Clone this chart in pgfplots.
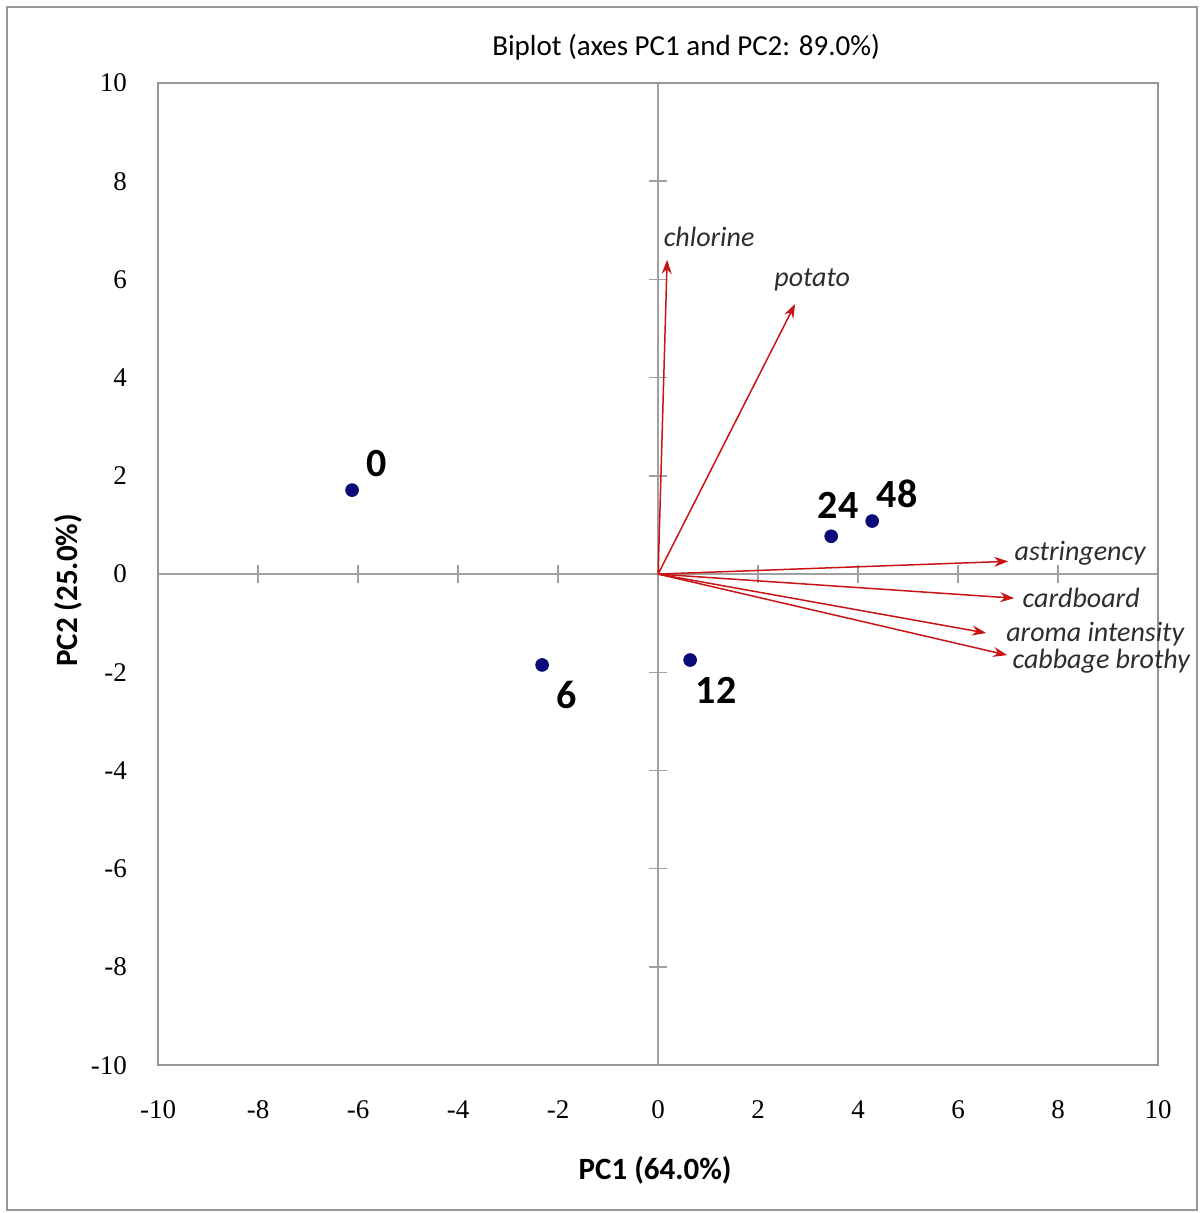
\documentclass[border=0pt]{standalone}
\usepackage{fontspec}
\setmainfont{Carlito}
\newfontfamily\tickfont{Liberation Serif}
\usepackage{pgfplots}
\pgfplotsset{compat=1.18}
\usetikzlibrary{arrows.meta}
\definecolor{boxgray}{RGB}{150,150,150}
\definecolor{zerogray}{RGB}{160,160,160}
\definecolor{arrowred}{RGB}{200,20,20}
\definecolor{dotblue}{RGB}{10,10,120}
\definecolor{lbl}{RGB}{45,45,45}
\begin{document}
\begin{tikzpicture}
% zero lines with crossing ticks
\begin{axis}[
  scale only axis, width=500pt, height=491pt,
  xmin=-10, xmax=10, ymin=-10, ymax=10,
  axis lines=middle, axis line style={-, zerogray, line width=0.75pt},
  xtick={-8,-6,-4,-2,2,4,6,8}, ytick={-8,-6,-4,-2,2,4,6,8},
  xticklabels={}, yticklabels={},
  tick align=center, major tick length=9pt,
  tick style={zerogray, line width=0.75pt},
]
\end{axis}
\begin{axis}[
  scale only axis, width=500pt, height=491pt,
  xmin=-10, xmax=10, ymin=-10, ymax=10,
  xtick={-10,-8,...,10}, ytick={-10,-8,...,10},
  major tick length=0pt,
  axis line style={boxgray, line width=1pt},
  /pgf/number format/assume math mode=true,
  ticklabel style={font=\tickfont\fontsize{13.5}{16}\selectfont},
  xticklabel shift=14pt, yticklabel shift=12pt,
  clip=false,
]
% page extent and outer frame
\path[use as bounding box] (axis cs:-13.16,-13.01) rectangle (axis cs:10.82,11.69);
\draw[boxgray, line width=0.75pt] (axis cs:-13.02,-12.95) rectangle (axis cs:10.78,11.55);
\node[font=\fontsize{14.5}{17}\selectfont] at (axis cs:0.56,10.73) {Biplot (axes PC1 and PC2: 89.0\%)};
\node[font=\bfseries\fontsize{15.5}{18}\selectfont] at (axis cs:-0.06,-12.14) {PC1 (64.0\%)};
\node[font=\bfseries\fontsize{15.5}{18}\selectfont, rotate=90] at (axis cs:-11.8,-0.33) {PC2 (25.0\%)};

% variable vectors
\addplot[arrowred, line width=0.75pt, -{Stealth[length=7pt,width=5pt]}] coordinates {(0,0) (0.18,6.4)};
\addplot[arrowred, line width=0.75pt, -{Stealth[length=7pt,width=5pt]}] coordinates {(0,0) (2.74,5.5)};
\addplot[arrowred, line width=0.75pt, -{Stealth[length=7pt,width=5pt]}] coordinates {(0,0) (7.0,0.26)};
\addplot[arrowred, line width=0.75pt, -{Stealth[length=7pt,width=5pt]}] coordinates {(0,0) (7.12,-0.49)};
\addplot[arrowred, line width=0.75pt, -{Stealth[length=7pt,width=5pt]}] coordinates {(0,0) (6.56,-1.2)};
\addplot[arrowred, line width=0.75pt, -{Stealth[length=7pt,width=5pt]}] coordinates {(0,0) (6.98,-1.65)};

\begin{scope}[every node/.style={font=\itshape\fontsize{14}{16}\selectfont, text=lbl}]
\node at (axis cs:1.02,6.86) {chlorine};
\node at (axis cs:3.08,5.99) {potato};
\node at (axis cs:8.44,0.43) {astringency};
\node at (axis cs:8.46,-0.49) {cardboard};
\node at (axis cs:8.74,-1.22) {aroma intensity};
\node at (axis cs:8.86,-1.77) {cabbage brothy};
\end{scope}

% observations
\addplot[only marks, mark=*, mark size=3.2pt, color=dotblue] coordinates {
  (-6.12,1.71) (-2.32,-1.85) (0.64,-1.75) (3.46,0.77) (4.28,1.08)};

\begin{scope}[every node/.style={font=\bfseries\fontsize{20}{22}\selectfont}]
\node at (axis cs:-5.62,2.26) {0};
\node at (axis cs:-1.82,-2.47) {6};
\node at (axis cs:1.16,-2.36) {12};
\node at (axis cs:3.6,1.4) {24};
\node at (axis cs:4.78,1.63) {48};
\end{scope}
\end{axis}
\end{tikzpicture}
\end{document}
